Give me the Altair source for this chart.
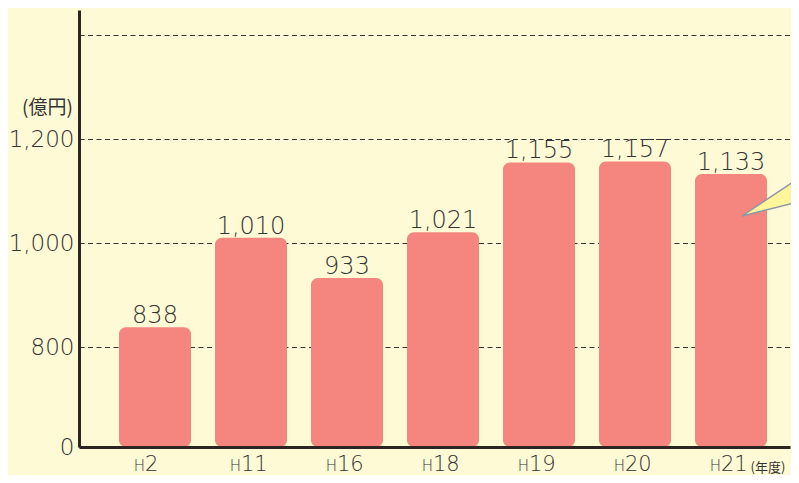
import altair as alt
import pandas as pd

# ---- data ----
years = ["H2", "H11", "H16", "H18", "H19", "H20", "H21"]
values = [838, 1010, 933, 1021, 1155, 1157, 1133]

# broken axis: bottom of the axis is labelled 0
axis_base = 608
y_top = 1448
grid_values = [608, 800, 1000, 1200, 1400]

# callout wedge (decoration, in plot-pixel units)
wedge_x = [663, 735]
wedge_y = [206, 158]
wedge_y2 = [206, 188]

BG = "#FFFAD6"
BAR = "#F4857F"
TXT = "#333333"
LINE = "#2B2622"
NUM_FONT = "DejaVu Sans"
JP_FONT = "Noto Sans CJK JP"

df = pd.DataFrame({
    "year": years,
    "value": values,
    "prefix": [y[0] for y in years],
    "num": [y[1:] for y in years],
})
wedge = pd.DataFrame({"x": wedge_x, "y": wedge_y, "y2": wedge_y2})

W, H = 711, 437

xscale = alt.Scale(domain=years, paddingInner=0.25, paddingOuter=0.328, align=0.635)
yscale = alt.Scale(domain=[axis_base, y_top], nice=False, zero=False)

x_enc = alt.X(
    "year:N", sort=years, scale=xscale,
    axis=alt.Axis(
        labels=False, ticks=False, domain=True, domainColor=LINE, domainWidth=3,
        title="(年度)", titleFont=JP_FONT, titleFontSize=13, titleFontWeight="normal",
        titleColor=TXT, titleAlign="left", titleAnchor="start", titleBaseline="alphabetic",
        titleX=671, titleY=24, zindex=1,
    ),
)

y_enc = alt.Y(
    "value:Q", scale=yscale,
    axis=alt.Axis(
        values=grid_values,
        labelExpr=f"datum.value == {axis_base} ? '0' : (datum.value >= 1400 ? '' : format(datum.value, ','))",
        ticks=False, domain=True, domainColor=LINE, domainWidth=3,
        grid=True, gridDash=[5, 3.5], gridColor="#333333", gridWidth=1.2,
        labelFont=NUM_FONT, labelFontSize=23, labelFontWeight=300, labelColor=TXT,
        labelPadding=5, labelBaseline="middle",
        title="(億円)", titleFont=JP_FONT, titleFontSize=19, titleFontWeight="normal",
        titleColor=TXT, titleAngle=0, titleAlign="center", titleBaseline="middle",
        titleX=-32, titleY=97, zindex=0,
    ),
)

base = alt.Chart(df)

bars = base.mark_bar(color=BAR, cornerRadius=7).encode(
    x=x_enc, y=y_enc, y2=alt.datum(axis_base)
)

vlabels = base.mark_text(
    dy=-4, baseline="alphabetic", font=NUM_FONT, fontSize=24, fontWeight=300, color=TXT
).encode(
    x=alt.X("year:N", sort=years),
    y=alt.Y("value:Q"),
    text=alt.Text("value:Q", format=",d"),
)

hlabels = base.mark_text(
    align="right", dx=-10, baseline="alphabetic", font=NUM_FONT, fontSize=15, fontWeight=300, color=TXT
).encode(
    x=alt.X("year:N", sort=years),
    y=alt.value(H + 24),
    text="prefix:N",
)

nlabels = base.mark_text(
    align="left", dx=-10, baseline="alphabetic", font=NUM_FONT, fontSize=21, fontWeight=300, color=TXT
).encode(
    x=alt.X("year:N", sort=years),
    y=alt.value(H + 24),
    text="num:N",
)

main = alt.layer(bars, vlabels, hlabels, nlabels)

wedge_layer = alt.Chart(wedge).mark_area(
    color="#FFF59A", stroke="#8C96AA", strokeWidth=1.5, opacity=1
).encode(
    x=alt.X("x:Q", scale=alt.Scale(domain=[0, W], nice=False, zero=False), axis=None),
    y=alt.Y("y:Q", scale=alt.Scale(domain=[0, H], nice=False, zero=False, reverse=True), axis=None),
    y2="y2:Q",
)

chart = alt.layer(main, wedge_layer).resolve_scale(
    x="independent", y="independent"
).properties(
    width=W, height=H,
    autosize=alt.AutoSizeParams(type="none"),
    padding={"left": 71, "top": 2, "right": 1, "bottom": 28},
    background=BG,
).configure_view(stroke=None)

chart.save("out.html", embed_options={"renderer": "svg", "actions": False})
